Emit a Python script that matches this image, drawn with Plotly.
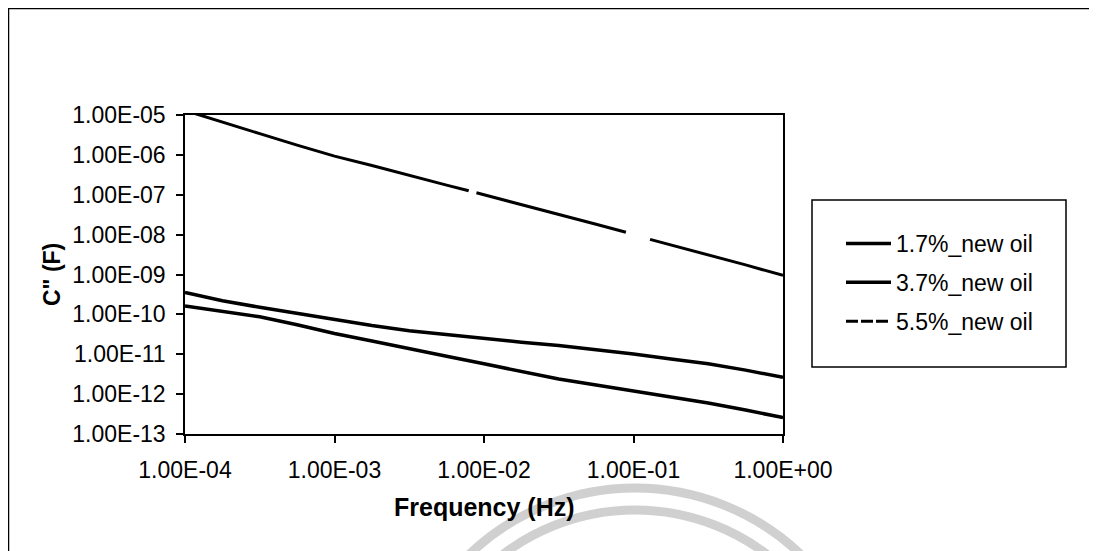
import plotly.graph_objects as go

# ---------------- data ----------------
freq = [1e-4, 1.78e-4, 3.16e-4, 5.62e-4, 1e-3, 1.78e-3, 3.16e-3, 5.62e-3,
        1e-2, 1.78e-2, 3.16e-2, 5.62e-2, 1e-1, 1.78e-1, 3.16e-1, 5.62e-1, 1.0]

c_17 = [1.62e-10, 1.20e-10, 8.7e-11, 5.5e-11, 3.3e-11, 2.14e-11, 1.35e-11, 8.9e-12,
        5.75e-12, 3.7e-12, 2.4e-12, 1.7e-12, 1.2e-12, 8.5e-13, 6.0e-13, 4.0e-13, 2.57e-13]

c_37 = [3.55e-10, 2.19e-10, 1.51e-10, 1.05e-10, 7.2e-11, 5.25e-11, 3.9e-11, 3.1e-11,
        2.45e-11, 2.0e-11, 1.66e-11, 1.32e-11, 1.02e-11, 7.6e-12, 5.75e-12, 4.0e-12, 2.63e-12]

# 5.5 % series has two short breaks in the recorded data
freq_55 = [1e-4, 1.78e-4, 3.16e-4, 5.62e-4, 1e-3, 1.78e-3, 3.16e-3, 5.62e-3, 7.9e-3, None,
           8.9e-3, 1e-2, 1.78e-2, 3.16e-2, 5.62e-2, 8.9e-2, None,
           1.29e-1, 1.78e-1, 3.16e-1, 5.62e-1, 1.0]
c_55 = [1.3e-5, 6.5e-6, 3.4e-6, 1.76e-6, 9.3e-7, 5.4e-7, 3.0e-7, 1.74e-7, 1.26e-7, None,
        1.12e-7, 1.0e-7, 5.75e-8, 3.3e-8, 1.82e-8, 1.15e-8, None,
        7.6e-9, 5.5e-9, 3.16e-9, 1.74e-9, 9.5e-10]

series_names = ["1.7%_new oil", "3.7%_new oil", "5.5%_new oil"]

x_tickvals = [1e-4, 1e-3, 1e-2, 1e-1, 1e0]
x_ticktext = ["1.00E-04", "1.00E-03", "1.00E-02", "1.00E-01", "1.00E+00"]
y_tickvals = [1e-13, 1e-12, 1e-11, 1e-10, 1e-9, 1e-8, 1e-7, 1e-6, 1e-5]
y_ticktext = ["1.00E-13", "1.00E-12", "1.00E-11", "1.00E-10", "1.00E-09",
              "1.00E-08", "1.00E-07", "1.00E-06", "1.00E-05"]

x_title = "Frequency (Hz)"
y_title = 'C" (F)'

# ---------------- layout geometry ----------------
# The page body adds an 8 px offset; positions below are screen pixels.
OFF = 8
W, H = 1097 - OFF, 551 - OFF
PL, PR, PT, PB = 185, 783, 115, 434   # plot area edges on screen
pw, ph = PR - PL, PB - PT


def px(x):
    return (x - PL) / pw


def py(y):
    return (PB - y) / ph


FONT = "Liberation Sans, Arial, sans-serif"

fig = go.Figure()
fig.add_trace(go.Scatter(x=freq, y=c_17, mode="lines", name=series_names[0],
                         line=dict(color="black", width=3.5), legendgroup="a"))
fig.add_trace(go.Scatter(x=freq, y=c_37, mode="lines", name=series_names[1],
                         line=dict(color="black", width=3.5), legendgroup="b"))
fig.add_trace(go.Scatter(x=freq_55, y=c_55, mode="lines", name=series_names[2],
                         line=dict(color="black", width=3), connectgaps=False,
                         showlegend=False, legendgroup="c"))
# legend entry for the 5.5 % series (dashed sample as in the reference legend)
fig.add_trace(go.Scatter(x=[None], y=[None], mode="lines", name=series_names[2],
                         line=dict(color="black", width=3, dash="12px,3px"),
                         legendgroup="c"))

axis_common = dict(
    showline=True, linecolor="black", linewidth=1.5, mirror=True,
    ticks="outside", ticklen=7, tickwidth=1.5, tickcolor="black",
    showgrid=False, zeroline=False,
    tickfont=dict(family=FONT, size=23, color="black"),
)

fig.update_xaxes(type="log", range=[-4, 0], tickvals=x_tickvals, ticktext=x_ticktext,
                 ticklabelstandoff=8, **axis_common)
fig.update_yaxes(type="log", range=[-13, -5], tickvals=y_tickvals, ticktext=y_ticktext,
                 ticklabelstandoff=6, **axis_common)

shapes = [
    # outer frame of the figure
    dict(type="rect", xref="paper", yref="paper",
         x0=px(8.5), x1=px(1120), y0=py(580), y1=py(8.5),
         line=dict(color="black", width=1.5), layer="below"),
    # light watermark arcs at the bottom
    dict(type="circle", xref="paper", yref="paper",
         x0=px(635 - 240), x1=px(635 + 240), y0=py(728 + 240), y1=py(728 - 240),
         line=dict(color="#d0d0d0", width=9), layer="below"),
    dict(type="circle", xref="paper", yref="paper",
         x0=px(635 - 218), x1=px(635 + 218), y0=py(728 + 218), y1=py(728 - 218),
         line=dict(color="#d0d0d0", width=9), layer="below"),
    # legend box
    dict(type="rect", xref="paper", yref="paper",
         x0=px(812), x1=px(1066), y0=py(367), y1=py(200),
         line=dict(color="black", width=1.5)),
]

annotations = [
    dict(text=x_title, xref="paper", yref="paper", x=px(484), y=py(507),
         xanchor="center", yanchor="middle", showarrow=False,
         font=dict(family=FONT, size=25, color="black", weight="bold")),
    dict(text=y_title, xref="paper", yref="paper", x=px(52), y=py(275),
         xanchor="center", yanchor="middle", showarrow=False, textangle=-90,
         font=dict(family=FONT, size=23, color="black", weight="bold")),
]

fig.update_layout(
    width=W, height=H, autosize=False,
    margin=dict(l=PL - OFF, r=W - (PR - OFF), t=PT - OFF, b=H - (PB - OFF), pad=0),
    paper_bgcolor="white", plot_bgcolor="white",
    showlegend=True,
    legend=dict(x=px(841), y=py(222), xanchor="left", yanchor="top",
                bgcolor="rgba(0,0,0,0)", borderwidth=0,
                font=dict(family=FONT, size=23, color="black"),
                itemwidth=45, tracegroupgap=6, traceorder="grouped"),
    shapes=shapes, annotations=annotations,
)

fig.write_html("out.html")
